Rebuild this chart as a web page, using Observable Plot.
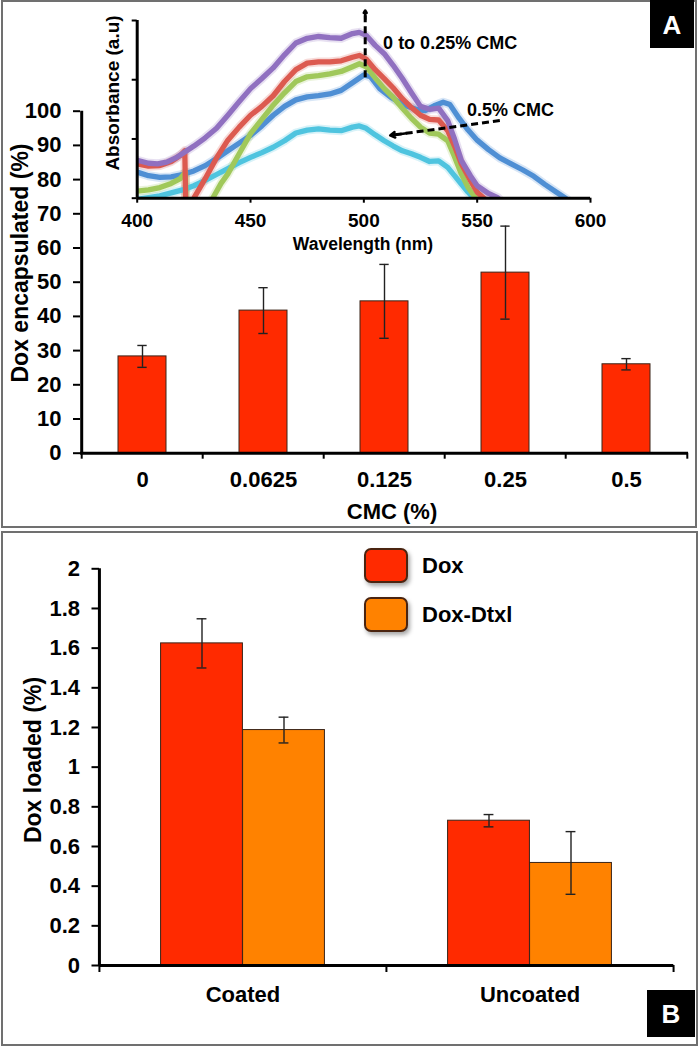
<!DOCTYPE html>
<html>
<head>
<meta charset="utf-8">
<script src="https://cdn.jsdelivr.net/npm/d3@7"></script>
<script src="https://cdn.jsdelivr.net/npm/@observablehq/plot@0.6"></script>
<style>
  html, body { margin: 0; padding: 0; background: #fff; }
  #page { position: relative; width: 700px; height: 1046px; overflow: hidden; background: #fff; }
</style>
</head>
<body>
<div id="page"></div>
<script>
// ---------------- DATA ----------------
// Panel A: Dox encapsulation vs CMC
const cmcLevels = ["0", "0.0625", "0.125", "0.25", "0.5"];
const encapsulated = [28.3, 41.7, 44.4, 52.8, 26.0];
const encapsulatedErr = [3.2, 6.7, 10.8, 13.6, 1.65];
const yTicksA = [0, 10, 20, 30, 40, 50, 60, 70, 80, 90, 100];

// Panel A inset: absorbance spectra (wavelength nm, absorbance a.u.)
const spectrumCmc0 = [[400,0.44],[405,0.38],[410,0.35],[415,0.36],[420,0.40],[425,0.46],[430,0.55],[435,0.67],[440,0.80],[445,0.93],[450,1.06],[455,1.22],[460,1.40],[465,1.55],[470,1.66],[475,1.71],[480,1.73],[485,1.76],[490,1.82],[495,1.95],[500,2.08],[503,2.05],[507,1.85],[512,1.70],[518,1.57],[523,1.50],[527,1.48],[531,1.56],[535,1.62],[538,1.58],[542,1.35],[546,1.15],[550,0.98],[555,0.82],[560,0.68],[565,0.58],[570,0.48],[575,0.37],[580,0.23],[585,0.10],[589,0.0],[592,-0.1]];
const spectrumCmc00625 = [[400,0.12],[405,0.14],[410,0.18],[415,0.25],[419,0.33],[421.3,0.44],[421.6,-0.3],[430,-0.3],[433.3,0.0],[437,0.25],[440,0.41],[445,0.75],[450,1.09],[455,1.33],[460,1.57],[465,1.78],[470,1.97],[475,2.05],[480,2.07],[485,2.10],[490,2.14],[495,2.22],[498,2.27],[501,2.22],[505,2.03],[509,1.85],[513,1.70],[517,1.52],[521,1.35],[525,1.20],[529,1.10],[533,1.08],[537,0.97],[540,0.70],[543,0.41],[546,0.18],[549,0.02],[551,-0.1]];
const spectrumCmc0125 = [[400,0.58],[405,0.54],[410,0.55],[415,0.62],[419,0.72],[421,0.80],[421.5,-0.3],[423,-0.3],[425,0.0],[430,0.33],[435,0.68],[440,0.98],[445,1.20],[450,1.40],[455,1.55],[460,1.73],[465,1.97],[470,2.17],[475,2.28],[480,2.30],[485,2.30],[490,2.32],[495,2.38],[498,2.41],[501,2.35],[505,2.17],[509,2.02],[513,1.86],[517,1.68],[521,1.53],[525,1.40],[529,1.33],[533,1.32],[537,1.14],[540,0.88],[543,0.58],[547,0.30],[550,0.10],[553,0.0],[555,-0.1]];
const spectrumCmc025 = [[400,0.64],[405,0.59],[409,0.58],[413,0.61],[417,0.68],[421,0.78],[425,0.88],[430,1.02],[435,1.18],[440,1.40],[445,1.63],[450,1.85],[455,2.02],[460,2.20],[465,2.42],[470,2.62],[475,2.70],[480,2.73],[485,2.71],[490,2.70],[495,2.78],[498,2.80],[501,2.75],[505,2.58],[509,2.44],[513,2.24],[517,2.02],[521,1.78],[525,1.55],[529,1.50],[533,1.52],[537,1.31],[540,1.00],[543,0.64],[547,0.38],[550,0.21],[555,0.08],[559,0.01],[562,-0.1]];
const spectrumCmc05 = [[400,-0.02],[405,0.01],[410,0.04],[415,0.09],[420,0.14],[425,0.21],[430,0.30],[435,0.40],[440,0.50],[445,0.60],[450,0.69],[455,0.77],[460,0.86],[465,0.97],[470,1.10],[475,1.15],[480,1.17],[485,1.15],[490,1.14],[495,1.20],[498,1.22],[501,1.18],[505,1.07],[509,0.97],[513,0.88],[517,0.80],[521,0.75],[525,0.69],[529,0.62],[533,0.63],[537,0.52],[540,0.38],[543,0.24],[546,0.10],[548.5,0.0],[550,-0.1]];
const wavelengthTicks = [400, 450, 500, 550, 600];
const absorbanceTicks = [0, 1, 2, 3];
// inset annotations (data space)
const upArrow = [{x: 500.6, y1: 2.04, y2: 3.17}];
const leftArrow = [{x1: 560, y1: 1.31, x2: 511.6, y2: 1.06}];
const insetNotes = [{x: 508.5, y: 2.61, text: "0 to 0.25% CMC"}, {x: 545.5, y: 1.48, text: "0.5% CMC"}];

// Panel B: Dox loaded
const groups = ["Coated", "Uncoated"];
const seriesB = ["Dox", "Dox-Dtxl"];
const doxLoaded = [1.624, 0.730];
const doxLoadedErr = [0.124, 0.031];
const doxDtxlLoaded = [1.187, 0.517];
const doxDtxlLoadedErr = [0.065, 0.158];
const yTicksB = [0, 0.2, 0.4, 0.6, 0.8, 1, 1.2, 1.4, 1.6, 1.8, 2];

// ---------------- STYLE ----------------
const FONT = '"Liberation Sans", Arial, Helvetica, sans-serif';
const RED = "#ff2a00";
const ORANGE = "#ff8200";
const lineColors = {"0": "#4f8fd4", "0.0625": "#a0c85a", "0.125": "#dc5a50", "0.25": "#9070c0", "0.5": "#4fc4df"};

const page = document.getElementById("page");
function put(el, left, top) {
  el.style.position = "absolute";
  el.style.left = left + "px";
  el.style.top = top + "px";
  page.appendChild(el);
  return el;
}
function label(text, cx, cy, size, rotate, color = "#000") {
  const d = document.createElement("div");
  d.textContent = text;
  d.style.cssText = `position:absolute;left:${cx}px;top:${cy}px;transform:translate(-50%,-50%)${rotate ? " rotate(-90deg)" : ""};font:bold ${size}px ${FONT};white-space:nowrap;color:${color};line-height:1;`;
  page.appendChild(d);
  return d;
}
function box(left, top, w, h, css) {
  const d = document.createElement("div");
  d.style.cssText = `position:absolute;left:${left}px;top:${top}px;width:${w}px;height:${h}px;box-sizing:border-box;${css}`;
  page.appendChild(d);
  return d;
}

// panel borders
box(0.5, 0, 696.5, 528, "border:2.5px solid #707070;");
box(0.5, 531, 697, 515, "border:2.5px solid #707070;");

// ---------------- PANEL A main bars ----------------
const dataA = cmcLevels.map((c, i) => ({cmc: c, v: encapsulated[i], e: encapsulatedErr[i]}));
const AL = 80, AR = 12, AT = 110.7, AB = 77.3, AW = 700, AH = 530;
const stepA = (AW - AL - AR) / cmcLevels.length;
const bwA = stepA * 0.4;
const capW = 10;
const chartA = Plot.plot({
  width: AW, height: AH, marginLeft: AL, marginRight: AR, marginTop: AT, marginBottom: AB,
  style: {background: "transparent", fontFamily: FONT, fontWeight: "bold", fontSize: "22px", color: "#000", overflow: "visible"},
  x: {domain: cmcLevels, paddingInner: 0.6, paddingOuter: 0.3, axis: null, label: null},
  y: {domain: [0, 100], axis: null, label: null},
  marks: [
    Plot.barY(dataA, {x: "cmc", y: "v", fill: RED, stroke: "#3a2418", strokeWidth: 1}),
    Plot.ruleX(dataA, {x: "cmc", y1: d => d.v - d.e, y2: d => d.v + d.e, stroke: "#222", strokeWidth: 1.4}),
    Plot.tickY(dataA, {x: "cmc", y: d => d.v + d.e, stroke: "#222", strokeWidth: 1.4, insetLeft: (bwA - capW) / 2, insetRight: (bwA - capW) / 2}),
    Plot.tickY(dataA, {x: "cmc", y: d => d.v - d.e, stroke: "#222", strokeWidth: 1.4, insetLeft: (bwA - capW) / 2, insetRight: (bwA - capW) / 2}),
    Plot.axisY({ticks: yTicksA, tickSize: 7, tickPadding: 12, strokeWidth: 2, label: null, fontSize: 22, fontWeight: "bold", tickFormat: d => String(d)}),
    Plot.axisX({tickSize: 0, tickPadding: 18, label: null, fontSize: 22, fontWeight: "bold"}),
    Plot.ruleY([0], {stroke: "#000", strokeWidth: 3}),
    Plot.ruleX([cmcLevels[0]], {x: d => d, y1: 0, y2: 100, dx: -stepA / 2, stroke: "#000", strokeWidth: 3}),
    Plot.ruleX(cmcLevels, {x: d => d, y1: 0, y2: 0, insetBottom: -6, dx: -stepA / 2, stroke: "#000", strokeWidth: 2}),
    Plot.ruleX([cmcLevels[cmcLevels.length - 1]], {x: d => d, y1: 0, y2: 0, insetBottom: -6, dx: stepA / 2, stroke: "#000", strokeWidth: 2})
  ]
});
put(chartA, 0, 0);
label("Dox encapsulated (%)", 20, 263, 23, true);
label("CMC (%)", 392, 512, 22, false);

// ---------------- PANEL A inset ----------------
const spectra = [
  {cmc: "0.5", pts: spectrumCmc05},
  {cmc: "0", pts: spectrumCmc0},
  {cmc: "0.0625", pts: spectrumCmc00625},
  {cmc: "0.125", pts: spectrumCmc0125},
  {cmc: "0.25", pts: spectrumCmc025}
];
const insetMarks = [];
for (const s of spectra) {
  const d = s.pts.map(([w, a]) => ({w, a}));
  insetMarks.push(Plot.line(d, {x: "w", y: "a", stroke: lineColors[s.cmc], strokeWidth: 9, strokeOpacity: 0.22, clip: true}));
}
for (const s of spectra) {
  const d = s.pts.map(([w, a]) => ({w, a}));
  insetMarks.push(Plot.line(d, {x: "w", y: "a", stroke: lineColors[s.cmc], strokeWidth: 5.3, clip: true}));
}
const inset = Plot.plot({
  width: 520, height: 245, marginLeft: 41.7, marginRight: 25, marginTop: 20, marginBottom: 47.3,
  style: {background: "transparent", fontFamily: FONT, fontWeight: "bold", fontSize: "19px", color: "#000", overflow: "visible"},
  x: {domain: [400, 600], axis: null, label: null},
  y: {domain: [0, 3], axis: null, label: null},
  marks: [
    ...insetMarks,
    Plot.axisX({ticks: wavelengthTicks, tickSize: 5, tickPadding: 10, strokeWidth: 2, label: null, fontSize: 19, fontWeight: "bold"}),
    Plot.axisY({ticks: absorbanceTicks, tickSize: 5, tickFormat: () => "", strokeWidth: 2, label: null}),
    Plot.ruleY([0], {stroke: "#000", strokeWidth: 3}),
    Plot.ruleX([wavelengthTicks[0]], {y1: 0, y2: 3, stroke: "#000", strokeWidth: 3}),
    // annotation arrows (dashed shafts + solid heads)
    Plot.link(upArrow, {x1: "x", x2: "x", y1: "y1", y2: d => d.y2 - 0.05, stroke: "#000", strokeWidth: 3, strokeDasharray: "7,4"}),
    Plot.arrow(upArrow, {x1: "x", x2: "x", y1: d => d.y2 - 0.15, y2: "y2", stroke: "#000", strokeWidth: 2.5, headLength: 13}),
    Plot.link(leftArrow, {x1: "x1", y1: "y1", x2: d => d.x2 + 2, y2: d => d.y2 + 0.01, stroke: "#000", strokeWidth: 3, strokeDasharray: "7,4"}),
    Plot.arrow(leftArrow, {x1: d => d.x2 + 0.15 * (d.x1 - d.x2), y1: d => d.y2 + 0.15 * (d.y1 - d.y2), x2: "x2", y2: "y2", stroke: "#000", strokeWidth: 2.5, headLength: 13}),
    Plot.text(insetNotes, {x: "x", y: "y", text: "text", textAnchor: "start", fontSize: 18, fontWeight: "bold", fill: "#000"})
  ]
});
put(inset, 95, 0);
label("Absorbance (a.u)", 112, 92.5, 19, true);
label("Wavelength (nm)", 363, 245, 17.5, false);

// panel A tag
box(650, 0, 44, 48, "background:#000;");
label("A", 672, 25, 26, false, "#fff");

// ---------------- PANEL B ----------------
const dataDox = groups.map((g, i) => ({g, v: doxLoaded[i], e: doxLoadedErr[i]}));
const dataDtxl = groups.map((g, i) => ({g, v: doxDtxlLoaded[i], e: doxDtxlLoadedErr[i]}));
const BL = 99, BR = 26.7, BT = 38.3, BB = 81, BW = 700, BH = 516;
const stepB = (BW - BL - BR) / groups.length;
const barW = 82;
const errStroke = {stroke: "#222", strokeWidth: 1.4};
const chartB = Plot.plot({
  width: BW, height: BH, marginLeft: BL, marginRight: BR, marginTop: BT, marginBottom: BB,
  style: {background: "transparent", fontFamily: FONT, fontWeight: "bold", fontSize: "22px", color: "#000", overflow: "visible"},
  x: {domain: groups, padding: 0, axis: null, label: null},
  y: {domain: [0, 2], axis: null, label: null},
  marks: [
    Plot.barY(dataDox, {x: "g", y: "v", fill: RED, stroke: "#3a2418", strokeWidth: 1, insetLeft: stepB / 2 - barW, insetRight: stepB / 2}),
    Plot.barY(dataDtxl, {x: "g", y: "v", fill: ORANGE, stroke: "#3a2418", strokeWidth: 1, insetLeft: stepB / 2, insetRight: stepB / 2 - barW}),
    Plot.ruleX(dataDox, {x: "g", y1: d => d.v - d.e, y2: d => d.v + d.e, dx: -barW / 2, ...errStroke}),
    Plot.ruleX(dataDtxl, {x: "g", y1: d => d.v - d.e, y2: d => d.v + d.e, dx: barW / 2, ...errStroke}),
    Plot.tickY(dataDox, {x: "g", y: d => d.v + d.e, insetLeft: stepB / 2 - barW / 2 - capW / 2, insetRight: stepB / 2 + barW / 2 - capW / 2, ...errStroke}),
    Plot.tickY(dataDox, {x: "g", y: d => d.v - d.e, insetLeft: stepB / 2 - barW / 2 - capW / 2, insetRight: stepB / 2 + barW / 2 - capW / 2, ...errStroke}),
    Plot.tickY(dataDtxl, {x: "g", y: d => d.v + d.e, insetLeft: stepB / 2 + barW / 2 - capW / 2, insetRight: stepB / 2 - barW / 2 - capW / 2, ...errStroke}),
    Plot.tickY(dataDtxl, {x: "g", y: d => d.v - d.e, insetLeft: stepB / 2 + barW / 2 - capW / 2, insetRight: stepB / 2 - barW / 2 - capW / 2, ...errStroke}),
    Plot.axisY({ticks: yTicksB, tickSize: 7.5, tickPadding: 12, strokeWidth: 2, label: null, fontSize: 22, fontWeight: "bold", tickFormat: d => String(d)}),
    Plot.axisX({tickSize: 0, tickPadding: 21, label: null, fontSize: 22, fontWeight: "bold"}),
    Plot.ruleY([0], {stroke: "#000", strokeWidth: 3}),
    Plot.ruleX([groups[0]], {x: d => d, y1: 0, y2: 2, dx: -stepB / 2, stroke: "#000", strokeWidth: 3}),
    Plot.ruleX(groups, {x: d => d, y1: 0, y2: 0, insetBottom: -7, dx: -stepB / 2, stroke: "#000", strokeWidth: 2}),
    Plot.ruleX([groups[groups.length - 1]], {x: d => d, y1: 0, y2: 0, insetBottom: -7, dx: stepB / 2, stroke: "#000", strokeWidth: 2})
  ]
});
put(chartB, 0, 530);
label("Dox loaded (%)", 33, 760, 23, true);

// legend
const legendColors = [RED, ORANGE];
seriesB.forEach((s, i) => {
  const top = 548 + i * 49;
  box(364, top, 44, 35, `background:${legendColors[i]};border:2px solid #4a2410;border-radius:7px;box-shadow:2px 3px 4px rgba(0,0,0,0.35);`);
  const t = document.createElement("div");
  t.textContent = s;
  t.style.cssText = `position:absolute;left:422px;top:${top + 17.5}px;transform:translateY(-50%);font:bold 22px ${FONT};line-height:1;white-space:nowrap;color:#000;`;
  page.appendChild(t);
});

// panel B tag
box(647, 990, 48, 47, "background:#000;");
label("B", 671, 1014, 26, false, "#fff");
</script>
</body>
</html>
